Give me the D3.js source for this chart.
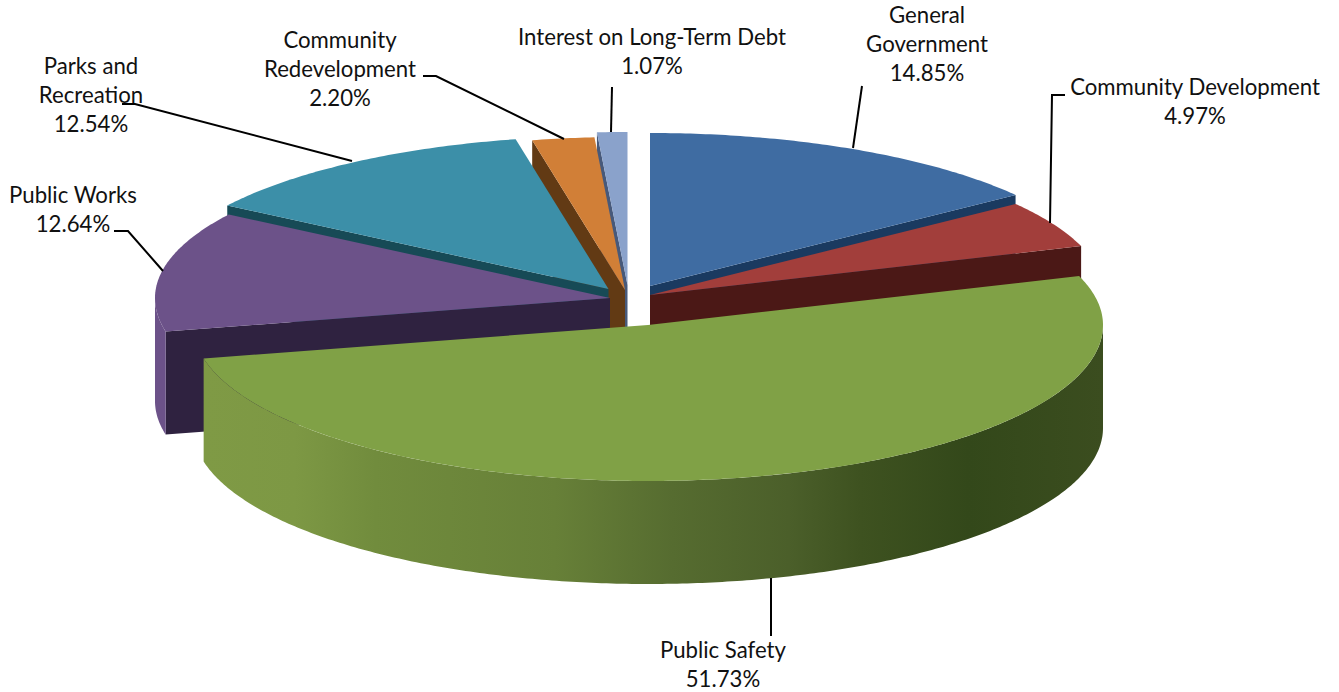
<!DOCTYPE html>
<html>
<head>
<meta charset="utf-8">
<title>Expenses by Function</title>
<script src="https://d3js.org/d3.v7.min.js"></script>
<style>
    html, body { margin: 0; padding: 0; background: #fff; }
    svg { display: block; }
    text { font-family: Lato, sans-serif; font-size: 22.2px; fill: #111; text-anchor: middle; dominant-baseline: central; }
</style>
</head>
<body>
<div id="chart"></div>
<script>
    // chart values, clockwise from 12 o'clock
    var categories = ["General Government", "Community Development", "Public Safety", "Public Works",
        "Parks and Recreation", "Community Redevelopment", "Interest on Long-Term Debt"];
    var shares = [14.85, 4.97, 51.73, 12.64, 12.54, 2.20, 1.07];
    var shareLabels = ["14.85%", "4.97%", "51.73%", "12.64%", "12.54%", "2.20%", "1.07%"];
    var labelLines = [["General", "Government"], ["Community Development"], ["Public Safety"], ["Public Works"],
        ["Parks and", "Recreation"], ["Community", "Redevelopment"], ["Interest on Long-Term Debt"]];

    // styles and layout, same order as categories
    var topColors = ["#3f6ca2", "#a23e3b", "#80a146", "#6c5289", "#3c8fa8", "#d17f37", "#8aa2cb"];
    var wallColors = ["#1a3a60", "#4b1816", "#3a4d1e", "#2f2240", "#174a56", "#623a14", "#47597a"];
    var apexes = [[650, 286], [650, 295], [648, 325], [610, 298], [608.5, 289], [625, 290], [627.5, 285]];
    var labelPos = [[927, 14], [1195, 86], [723, 649], [73, 194], [91, 65], [340, 39], [652, 36]];
    var leaders = [
        [[862, 86], [853, 148]],
        [[1065, 95], [1052, 95], [1050, 223]],
        [[771, 578], [771, 636]],
        [[114, 231], [128, 231], [163, 271]],
        [[122, 104], [135, 104], [352, 161]],
        [[423, 76], [436, 76], [564, 139]],
        [[612, 87], [611, 132]]
    ];
    var drawOrder = [6, 5, 4, 3, 0, 1, 2];

    var width = 1339, height = 692, depth = 103;
    var lineHeight = 29.3;

    // unit disc to screen offsets, the near half is a bit deeper than the far half
    var px = d3.scaleLinear().domain([-1, 1]).range([-455, 455]);
    var py = d3.scaleLinear().domain([-1, 0, 1]).range([-156, 0, 153]);

    var svg = d3.select("#chart").append("svg")
        .attr("width", width)
        .attr("height", height);

    var defs = svg.append("defs");
    var sideGrad = defs.append("linearGradient")
        .attr("id", "greenSide")
        .attr("gradientUnits", "userSpaceOnUse")
        .attr("x1", 205).attr("x2", 1103).attr("y1", 0).attr("y2", 0);
    [[0, "#7f9a45"], [0.1, "#7d9844"], [0.19, "#718c3d"], [0.39, "#678038"], [0.52, "#566c30"],
     [0.65, "#4b5f2a"], [0.73, "#3e5220"], [0.85, "#33481a"], [1, "#3b4d1f"]].forEach(function(s) {
        sideGrad.append("stop").attr("offset", s[0]).attr("stop-color", s[1]);
    });

    var pie = d3.pie().sort(null).value(function(d) { return d; });
    var arcs = pie(shares);

    var path = d3.line();

    function point(i, angle, r, drop) {
        return [apexes[i][0] + px(r * Math.sin(angle)),
                apexes[i][1] - py(r * Math.cos(angle)) + (drop || 0)];
    }

    function rim(i, a0, a1, drop) {
        var n = Math.max(2, Math.ceil((a1 - a0) * 90));
        return d3.range(n + 1).map(function(k) {
            return point(i, a0 + (a1 - a0) * k / n, 1, drop);
        });
    }

    function cutWall(i, angle) {
        return path([point(i, angle, 0), point(i, angle, 1), point(i, angle, 1, depth), point(i, angle, 0, depth)]) + "Z";
    }

    drawOrder.forEach(function(i) {
        var a = arcs[i];
        var g = svg.append("g").attr("class", "slice").attr("data-name", categories[i]);

        // cut faces, only the ones turned to the viewer
        if (Math.sin(a.startAngle) < -1e-6) {
            g.append("path").attr("d", cutWall(i, a.startAngle)).attr("fill", wallColors[i]);
        }
        if (Math.sin(a.endAngle) > 1e-6) {
            g.append("path").attr("d", cutWall(i, a.endAngle)).attr("fill", wallColors[i]);
        }

        // outer rim, front half only
        var r0 = Math.max(a.startAngle, Math.PI / 2), r1 = Math.min(a.endAngle, Math.PI * 1.5);
        if (r1 > r0) {
            var rimFill = i === 2 ? "url(#greenSide)" : topColors[i];
            g.append("path")
                .attr("d", path(rim(i, r0, r1, 0).concat(rim(i, r0, r1, depth).reverse())) + "Z")
                .attr("fill", rimFill);
        }

        // top face
        g.append("path")
            .attr("d", path([point(i, 0, 0)].concat(rim(i, a.startAngle, a.endAngle, 0))) + "Z")
            .attr("fill", topColors[i]);
    });

    // leader lines
    svg.selectAll(".leader")
        .data(leaders)
        .enter()
        .append("path")
        .attr("class", "leader")
        .attr("d", function(d) { return path(d); })
        .attr("fill", "none")
        .attr("stroke", "#000")
        .attr("stroke-width", 2);

    // labels
    categories.forEach(function(c, i) {
        var rows = labelLines[i].concat([shareLabels[i]]);
        rows.forEach(function(t, k) {
            svg.append("text")
                .attr("x", labelPos[i][0])
                .attr("y", labelPos[i][1] + k * lineHeight)
                .text(t);
        });
    });
</script>
</body>
</html>
